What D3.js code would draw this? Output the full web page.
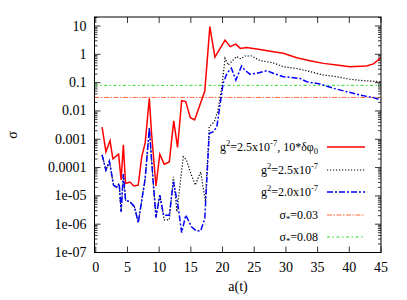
<!DOCTYPE html>
<meta charset="utf-8">
<head>
<style>
body { margin: 0; background: #fff; }
text { font-family: "Liberation Serif", "Times New Roman", serif; }
.line { fill: none; }
</style>
</head>
<body>
<script src="https://d3js.org/d3.v7.min.js"></script>
<script>

// curves: [a(t), log10 sigma]
var redData = [[1.0,-2.57],[1.6,-3.44],[2.25,-3.05],[2.7,-3.69],[3.6,-3.53],[4.0,-4.44],[4.35,-3.2],
  [4.7,-4.56],[5.4,-4.51],[6.0,-4.65],[6.7,-4.62],[7.25,-3.62],[7.8,-3.12],[8.45,-1.55],[8.8,-2.79],
  [9.5,-4.65],[10.1,-3.53],[10.8,-3.88],[11.6,-3.8],[12.3,-2.35],[12.9,-3.29],[13.55,-1.64],[14.2,-1.67],
  [14.9,-2.23],[15.6,-2.32],[17.2,-1.3],[18.0,0.98],[18.8,-0.1],[20.4,0.5],[21.2,0.27],[22.1,0.36],
  [22.8,0.21],[23.8,0.24],[25.1,0.2],[26.4,0.15],[28.0,0.09],[29.6,0.035],[31.7,-0.12],[33.8,-0.23],
  [35.9,-0.32],[38.0,-0.38],[40.1,-0.44],[42.7,-0.41],[43.8,-0.34],[45,-0.12]]
  .map(function(d) { return [d[0], Math.pow(10, d[1])]; });

var blackData = [[1.0,-3.55],[1.6,-4.09],[2.15,-3.77],[2.8,-4.62],[3.3,-4.7],[3.7,-4.56],[4.0,-5.56],
  [4.35,-4.23],[4.7,-5.15],[5.4,-5.21],[6.1,-5.38],[6.7,-5.95],[7.8,-4.38],[8.45,-2.61],[9.0,-4.33],
  [9.5,-5.76],[10.1,-4.97],[10.8,-5.85],[11.6,-5.85],[12.25,-4.33],[12.8,-5.56],[13.8,-3.62],[14.3,-3.73],
  [14.9,-4.15],[15.7,-4.62],[16.55,-4.15],[17.3,-5.2],[17.9,-2.56],[18.7,-2.38],[19.3,-1.97],[19.9,-1.14],
  [20.4,-0.14],[20.9,-0.38],[21.4,-0.26],[22.2,-0.08],[22.9,-0.16],[23.5,-0.06],[24.6,-0.06],[25.9,-0.22],
  [28.0,-0.3],[29.6,-0.44],[31.7,-0.5],[33.8,-0.61],[35.9,-0.73],[38.0,-0.79],[40.1,-0.88],[42.2,-0.93],
  [45,-0.97]]
  .map(function(d) { return [d[0], Math.pow(10, d[1])]; });

var blueData = [[1.0,-3.55],[1.6,-4.09],[2.15,-3.77],[2.8,-4.62],[3.3,-4.7],[3.7,-4.56],[4.0,-5.56],
  [4.35,-4.23],[4.7,-5.15],[5.4,-5.21],[6.1,-5.38],[6.7,-5.95],[7.8,-4.38],[8.45,-2.61],[9.0,-4.33],
  [9.5,-5.76],[10.1,-4.97],[10.7,-5.68],[11.6,-5.68],[12.25,-4.5],[13.0,-5.38],[13.55,-6.3],[14.2,-5.68],
  [15.1,-6.09],[15.9,-6.24],[16.55,-6.23],[17.2,-5.8],[17.9,-2.79],[18.55,-2.73],[19.1,-2.56],[20.1,-1.02],
  [20.7,-0.67],[21.4,-0.49],[22.1,-0.91],[23.0,-0.41],[23.5,-0.55],[24.3,-0.7],[25.4,-0.67],[27.0,-0.58],
  [28.0,-0.67],[29.6,-0.79],[32.2,-0.85],[33.3,-0.97],[35.4,-1.05],[37.5,-1.2],[39.6,-1.32],[41.7,-1.44],
  [43.8,-1.53],[45,-1.61]]
  .map(function(d) { return [d[0], Math.pow(10, d[1])]; });

var sigmaStar = [0.03, 0.08];

var xTicks = [0, 5, 10, 15, 20, 25, 30, 35, 40, 45];
var yTicks = [1e-7, 1e-6, 1e-5, 1e-4, 1e-3, 0.01, 0.1, 1, 10];
var yTickLabels = ["1e-07", "1e-06", "1e-05", "0.0001", "0.001", "0.01", "0.1", "1", "10"];

// plot box (not named "top": that clashes with window.top)
var boxL = 94.5, boxR = 381, boxT = 17, boxB = 252.5;

var svg = d3.select("body").append("svg")
    .attr("width", 407)
    .attr("height", 300);

var x = d3.scaleLinear().domain([-0.2, 45]).range([boxL, boxR]);
var y = d3.scaleLog().domain([1e-7, 20.8]).range([boxB, boxT]);

// minor log ticks
var minor = [];
for (var e = -7; e <= 1; e++) {
  for (var m = 2; m <= 9; m++) {
    var v = m * Math.pow(10, e);
    if (v < 20.8) minor.push(v);
  }
}

var ax = svg.append("g").attr("stroke", "#000").attr("stroke-width", 0.8);

// y ticks, both sides, pointing in
yTicks.forEach(function(t) {
  ax.append("line").attr("x1", boxL).attr("x2", boxL + 6).attr("y1", y(t)).attr("y2", y(t));
  ax.append("line").attr("x1", boxR).attr("x2", boxR - 6).attr("y1", y(t)).attr("y2", y(t));
});
minor.forEach(function(t) {
  ax.append("line").attr("x1", boxL).attr("x2", boxL + 3).attr("y1", y(t)).attr("y2", y(t));
  ax.append("line").attr("x1", boxR).attr("x2", boxR - 3).attr("y1", y(t)).attr("y2", y(t));
});
// x ticks, bottom and top
xTicks.forEach(function(t) {
  ax.append("line").attr("x1", x(t)).attr("x2", x(t)).attr("y1", boxB).attr("y2", boxB - 6);
  ax.append("line").attr("x1", x(t)).attr("x2", x(t)).attr("y1", boxT).attr("y2", boxT + 6);
});

// tick labels
svg.selectAll(".ylab")
    .data(yTicks)
  .enter().append("text")
    .attr("x", boxL - 8)
    .attr("y", function(d) { return y(d) + 4.5; })
    .attr("text-anchor", "end")
    .style("font-size", "14px")
    .text(function(d, i) { return yTickLabels[i]; });

svg.selectAll(".xlab")
    .data(xTicks)
  .enter().append("text")
    .attr("x", function(d) { return x(d); })
    .attr("y", 272)
    .attr("text-anchor", "middle")
    .style("font-size", "14px")
    .text(function(d) { return d; });

// axis titles
svg.append("text")
    .attr("text-anchor", "middle")
    .attr("transform", "translate(238,291)")
    .style("font-size", "14px")
    .text("a(t)");
svg.append("text")
    .attr("text-anchor", "middle")
    .attr("transform", "translate(17,135) rotate(-90)")
    .style("font-size", "14px")
    .text("σ");

// clip to the box
svg.append("clipPath").attr("id", "clip")
  .append("rect").attr("x", boxL).attr("y", boxT)
  .attr("width", boxR - boxL).attr("height", boxB - boxT);

var plot = svg.append("g").attr("clip-path", "url(#clip)");

var line = d3.line()
    .x(function(d) { return x(d[0]); })
    .y(function(d) { return y(d[1]); });

// horizontal reference lines
var hStyles = [
  {color: "#ff6a3d", dash: "5,1.5,1.5,1.5"},
  {color: "#22dd22", dash: "3,2.5,1.5,2.5"}
];
sigmaStar.forEach(function(s, i) {
  plot.append("path")
      .attr("class", "line")
      .attr("d", line([[-0.2, s], [45, s]]))
      .attr("stroke", hStyles[i].color)
      .attr("stroke-width", 1)
      .attr("stroke-dasharray", hStyles[i].dash);
});

var series = [
  {data: redData, color: "#ff0000", width: 1.5, dash: null},
  {data: blackData, color: "#000000", width: 1.2, dash: "1.2,1.8"},
  {data: blueData, color: "#0000ff", width: 1.5, dash: "6,2,2,2"}
];
series.forEach(function(s) {
  plot.append("path")
      .attr("class", "line")
      .attr("d", line(s.data))
      .attr("stroke", s.color)
      .attr("stroke-width", s.width)
      .attr("stroke-dasharray", s.dash);
});

// border
svg.append("rect")
    .attr("x", boxL).attr("y", boxT)
    .attr("width", boxR - boxL).attr("height", boxB - boxT)
    .attr("fill", "none").attr("stroke", "#000").attr("stroke-width", 1);

// legend
var legend = [
  {parts: [["g", 0], ["2", 1], ["=2.5x10", 0], ["-7", 1], [", 10*δφ", 0], ["0", -1]], color: "#ff0000", width: 1.5, dash: null},
  {parts: [["g", 0], ["2", 1], ["=2.5x10", 0], ["-7", 1]], color: "#000000", width: 1.2, dash: "1.2,1.8"},
  {parts: [["g", 0], ["2", 1], ["=2.0x10", 0], ["-7", 1]], color: "#0000ff", width: 1.5, dash: "6,2,2,2"},
  {parts: [["σ", 0], ["*", -1], ["=0.03", 0]], color: "#ff6a3d", width: 1, dash: "5,1.5,1.5,1.5"},
  {parts: [["σ", 0], ["*", -1], ["=0.08", 0]], color: "#22dd22", width: 1, dash: "3,2.5,1.5,2.5"}
];
var rowY = [147, 170, 192, 215, 237];

legend.forEach(function(l, i) {
  var t = svg.append("text")
      .attr("x", 318)
      .attr("y", rowY[i] + 4)
      .attr("text-anchor", "end")
      .style("font-size", "12px");
  var shift = 0;
  l.parts.forEach(function(p) {
    var dy = p[1] === 1 ? -5 : (p[1] === -1 ? 3 : 0);
    t.append("tspan")
        .attr("dy", dy - shift)
        .style("font-size", p[1] === 0 ? "12px" : "8.5px")
        .text(p[0]);
    shift = dy;
  });
  svg.append("path")
      .attr("class", "line")
      .attr("d", "M327," + rowY[i] + "H365")
      .attr("stroke", l.color)
      .attr("stroke-width", l.width)
      .attr("stroke-dasharray", l.dash);
});

</script>
</body>
